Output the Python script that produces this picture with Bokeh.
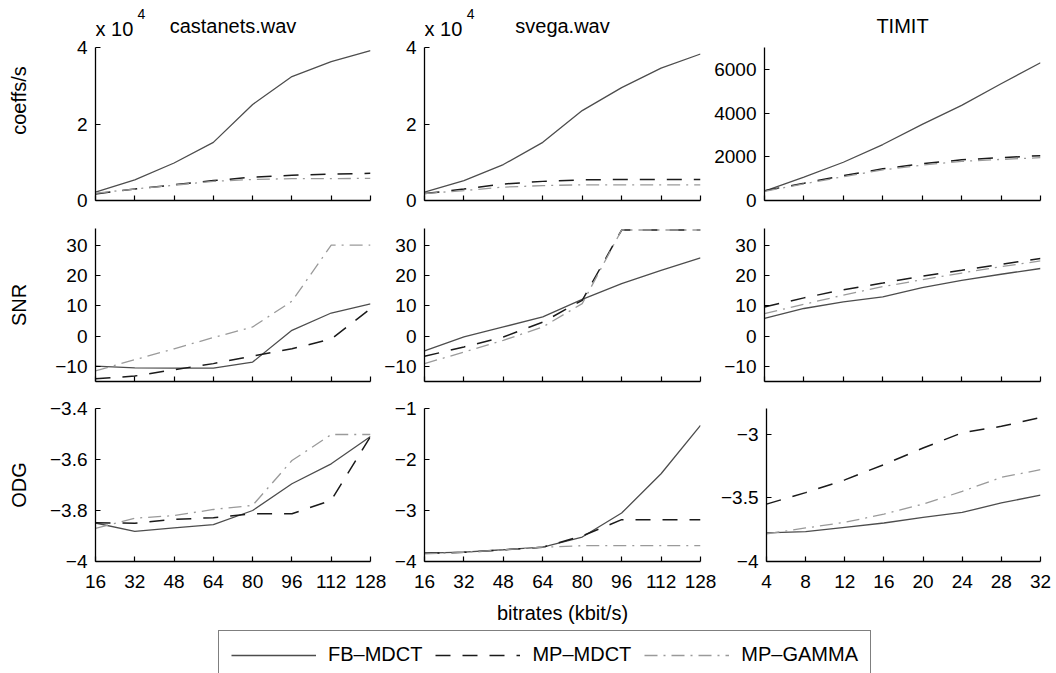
from bokeh.plotting import figure
from bokeh.layouts import column, row
from bokeh.models import Range1d, FixedTicker, Legend, LegendItem
from bokeh.core.properties import value
from bokeh.embed import file_html
from bokeh.resources import INLINE

# ---------------- data ----------------
x_kbps = [16, 32, 48, 64, 80, 96, 112, 128]
x_timit = [4, 8, 12, 16, 20, 24, 28, 32]

series_names = ["FB–MDCT", "MP–MDCT", "MP–GAMMA"]
panel_titles = ["castanets.wav", "svega.wav", "TIMIT"]
row_labels = ["coeffs/s", "SNR", "ODG"]
x_axis_title = "bitrates (kbit/s)"

# coeffs/s
cast_coef_fb = [2200, 5400, 9800, 15200, 25100, 32400, 36300, 39200]
cast_coef_mpmdct = [1700, 3000, 4100, 5200, 6100, 6600, 6900, 7100]
cast_coef_gamma = [1900, 3000, 4000, 5000, 5500, 5700, 5700, 5800]

svega_coef_fb = [2200, 5200, 9400, 15200, 23500, 29500, 34600, 38300]
svega_coef_mpmdct = [1800, 3000, 4300, 5000, 5400, 5500, 5500, 5500]
svega_coef_gamma = [1800, 2600, 3500, 3900, 4100, 4100, 4100, 4100]

timit_coef_fb = [430, 1070, 1750, 2560, 3480, 4350, 5340, 6300]
timit_coef_mpmdct = [450, 790, 1140, 1450, 1680, 1860, 1960, 2050]
timit_coef_gamma = [420, 760, 1090, 1400, 1620, 1790, 1880, 1960]

# SNR
cast_snr_fb = [-9.9, -10.5, -10.6, -10.6, -8.6, 1.9, 7.6, 10.6]
cast_snr_mpmdct = [-14.1, -13.2, -11.1, -9.1, -6.6, -4.2, -1.0, 9.0]
cast_snr_gamma = [-11.5, -7.8, -4.2, -0.5, 3.0, 11.5, 30.0, 30.0]

svega_snr_fb = [-4.9, -0.3, 3.0, 6.3, 12.1, 17.3, 21.7, 25.8]
svega_snr_mpmdct = [-6.7, -3.6, -0.3, 4.6, 11.8, 35.0, 35.0, 35.0]
svega_snr_gamma = [-9.1, -5.3, -1.4, 3.0, 10.7, 35.0, 35.0, 35.0]

timit_snr_fb = [5.8, 9.1, 11.3, 12.9, 16.0, 18.4, 20.4, 22.3]
timit_snr_mpmdct = [9.6, 12.6, 15.3, 17.5, 19.8, 21.7, 23.7, 25.6]
timit_snr_gamma = [7.4, 10.5, 13.5, 16.3, 18.6, 20.8, 22.9, 24.8]

# ODG
cast_odg_fb = [-3.849, -3.882, -3.868, -3.855, -3.800, -3.695, -3.617, -3.510]
cast_odg_mpmdct = [-3.848, -3.850, -3.835, -3.828, -3.813, -3.813, -3.760, -3.510]
cast_odg_gamma = [-3.870, -3.830, -3.820, -3.796, -3.780, -3.604, -3.502, -3.502]

svega_odg_fb = [-3.837, -3.817, -3.770, -3.720, -3.520, -3.050, -2.280, -1.330]
svega_odg_mpmdct = [-3.840, -3.820, -3.770, -3.720, -3.500, -3.180, -3.180, -3.180]
svega_odg_gamma = [-3.850, -3.820, -3.770, -3.720, -3.690, -3.690, -3.690, -3.690]

timit_odg_fb = [-3.776, -3.766, -3.732, -3.698, -3.654, -3.615, -3.541, -3.479]
timit_odg_mpmdct = [-3.550, -3.460, -3.360, -3.240, -3.110, -2.990, -2.940, -2.870]
timit_odg_gamma = [-3.784, -3.737, -3.693, -3.628, -3.550, -3.450, -3.340, -3.280]

# ticks
kbps_ticks = [16, 32, 48, 64, 80, 96, 112, 128]
timit_ticks = [4, 8, 12, 16, 20, 24, 28, 32]
coef_ticks_wav = [0, 20000, 40000]
coef_labels_wav = ["0", "2", "4"]
coef_ticks_timit = [0, 2000, 4000, 6000]
snr_ticks = [-10, 0, 10, 20, 30]
odg_ticks_cast = [-4, -3.8, -3.6, -3.4]
odg_ticks_svega = [-4, -3, -2, -1]
odg_ticks_timit = [-4, -3.5, -3]

# ---------------- styling ----------------
FONT = "Liberation Sans"
STYLES = [
    dict(line_color="#4d4d4d", line_width=1.3, line_dash="solid"),
    dict(line_color="#1a1a1a", line_width=1.5, line_dash="15 12"),
    dict(line_color="#9a9a9a", line_width=1.3, line_dash="13 6 2 6"),
]


def fmt(v):
    return f"{v:g}".replace("-", "\u2212")


def make_fig(width, height, l, r, t, b, xr, yr, xticks, yticks, ylabels=None, show_xlabels=False,
             ybounds=None):
    p = figure(width=width, height=height, min_border_left=l, min_border_right=r,
               min_border_top=t, min_border_bottom=b,
               x_range=Range1d(*xr), y_range=Range1d(*yr),
               output_backend="svg", toolbar_location=None, tools="")
    p.outline_line_color = None
    p.grid.visible = False
    p.background_fill_color = "white"
    p.border_fill_color = "white"
    for ax in (p.xaxis[0], p.yaxis[0]):
        ax.axis_line_color = "black"
        ax.axis_line_width = 1.3
        ax.major_tick_in = 5
        ax.major_tick_out = 0
        ax.minor_tick_in = 0
        ax.minor_tick_out = 0
        ax.major_tick_line_color = "black"
        ax.major_tick_line_width = 1.2
        ax.major_label_text_font = FONT
        ax.major_label_text_font_size = "19px"
        ax.major_label_text_color = "black"
        ax.axis_label_text_font = FONT
        ax.axis_label_text_font_size = "20px"
        ax.axis_label_text_font_style = "normal"
        ax.axis_label_text_color = "black"
    xa = p.xaxis[0]
    xa.ticker = FixedTicker(ticks=xticks)
    if show_xlabels:
        xa.major_label_overrides = {v: fmt(v) for v in xticks}
        xa.major_label_standoff = 13
    else:
        # the reference shows tick marks only on the upper rows
        xa.major_label_overrides = {v: "" for v in xticks}
        xa.major_label_text_font_size = "1px"
        xa.major_label_standoff = 0
    ya = p.yaxis[0]
    ya.ticker = FixedTicker(ticks=yticks)
    labels = ylabels if ylabels is not None else [fmt(v) for v in yticks]
    ya.major_label_overrides = {v: s for v, s in zip(yticks, labels)}
    ya.major_label_standoff = 8
    if ybounds is not None:
        ya.bounds = ybounds
    return p


def add_lines(p, xs, ys_list):
    return [p.line(x=xs, y=ys, **st) for ys, st in zip(ys_list, STYLES)]


# ---------------- row 1: coeffs/s ----------------
# The frame of the top row reaches up to the page top; the y axis itself stops at
# the data limit (bounds), leaving room above it for the panel titles.
TOP_PX = 200.0      # frame height of the top row in pixels
AXIS_PX = 153.0     # height of the axis part


def top_range(ymax):
    return (0, ymax * TOP_PX / AXIS_PX)


def px_to_data(ymax, px_from_top):
    return ymax * (TOP_PX - px_from_top) / AXIS_PX


p11 = make_fig(375, 214, 95, 5, 0, 14, (16, 128), top_range(40000), kbps_ticks, coef_ticks_wav,
               coef_labels_wav, ybounds=(0, 40000))
p12 = make_fig(331, 214, 49, 6, 0, 14, (16, 128), top_range(40000), kbps_ticks, coef_ticks_wav,
               coef_labels_wav, ybounds=(0, 40000))
p13 = make_fig(350, 214, 58, 16, 0, 14, (4, 32), top_range(7000), timit_ticks, coef_ticks_timit,
               ybounds=(0, 7000))
add_lines(p11, x_kbps, [cast_coef_fb, cast_coef_mpmdct, cast_coef_gamma])
add_lines(p12, x_kbps, [svega_coef_fb, svega_coef_mpmdct, svega_coef_gamma])
add_lines(p13, x_timit, [timit_coef_fb, timit_coef_mpmdct, timit_coef_gamma])
p11.yaxis[0].axis_label = row_labels[0]
p11.yaxis[0].axis_label_standoff = 44

txt = dict(text_font=value(FONT), text_color="black", text_baseline=value("middle"))
for p, title, xmid, ymax in ((p11, panel_titles[0], 72, 40000), (p12, panel_titles[1], 72, 40000),
                             (p13, panel_titles[2], 18, 7000)):
    p.text(x=[xmid], y=[px_to_data(ymax, 25)], text=[title], text_font_size=value("20px"),
           text_align=value("center"), **txt)
for p in (p11, p12):
    p.text(x=[16], y=[px_to_data(40000, 28)], text=["x 10"], text_font_size=value("20px"),
           text_align=value("left"), **txt)
    p.text(x=[16 + 42 * 112 / 275], y=[px_to_data(40000, 13)], text=["4"], text_font_size=value("14px"),
           text_align=value("left"), **txt)

# ---------------- row 2: SNR ----------------
snr_range = (-15, 35.5)
p21 = make_fig(375, 180, 95, 5, 14, 13, (16, 128), snr_range, kbps_ticks, snr_ticks)
p22 = make_fig(331, 180, 49, 6, 14, 13, (16, 128), snr_range, kbps_ticks, snr_ticks)
p23 = make_fig(350, 180, 58, 16, 14, 13, (4, 32), snr_range, timit_ticks, snr_ticks)
add_lines(p21, x_kbps, [cast_snr_fb, cast_snr_mpmdct, cast_snr_gamma])
add_lines(p22, x_kbps, [svega_snr_fb, svega_snr_mpmdct, svega_snr_gamma])
add_lines(p23, x_timit, [timit_snr_fb, timit_snr_mpmdct, timit_snr_gamma])
p21.yaxis[0].axis_label = row_labels[1]
p21.yaxis[0].axis_label_standoff = 22

# ---------------- row 3: ODG ----------------
p31 = make_fig(389, 233, 95, 19, 14, 66, (16, 128), (-4, -3.4), kbps_ticks, odg_ticks_cast, show_xlabels=True)
p32 = make_fig(328, 233, 35, 17, 14, 66, (16, 128), (-4, -1), kbps_ticks, odg_ticks_svega, show_xlabels=True)
p33 = make_fig(339, 233, 47, 16, 14, 66, (4, 32), (-4, -2.8), timit_ticks, odg_ticks_timit, show_xlabels=True)
add_lines(p31, x_kbps, [cast_odg_fb, cast_odg_mpmdct, cast_odg_gamma])
add_lines(p32, x_kbps, [svega_odg_fb, svega_odg_mpmdct, svega_odg_gamma])
add_lines(p33, x_timit, [timit_odg_fb, timit_odg_mpmdct, timit_odg_gamma])
p31.yaxis[0].axis_label = row_labels[2]
p31.yaxis[0].axis_label_standoff = 17
p32.xaxis[0].axis_label = x_axis_title
p32.xaxis[0].axis_label_standoff = 11

# ---------------- legend strip ----------------
pl = figure(width=1056, height=46, min_border=0, x_range=Range1d(0, 1), y_range=Range1d(0, 1),
            x_axis_type=None, y_axis_type=None,
            output_backend="svg", toolbar_location=None, tools="")
pl.outline_line_color = None
pl.grid.visible = False
# legend sample renderers carry the real series but lie outside this strip's ranges
leg_renderers = [pl.line(x=x_kbps, y=ys, **st)
                 for ys, st in zip([cast_coef_fb, cast_coef_mpmdct, cast_coef_gamma], STYLES)]
legend = Legend(items=[LegendItem(label=n, renderers=[r]) for n, r in zip(series_names, leg_renderers)],
                orientation="horizontal", location=(218, -6),
                glyph_width=85, glyph_height=20, label_standoff=12, spacing=13, padding=12, margin=0,
                label_text_font=FONT, label_text_font_size="20px", label_text_color="black",
                border_line_color="black", border_line_width=1.2, background_fill_color="white",
                background_fill_alpha=1.0)
pl.add_layout(legend)

layout = column(row(p11, p12, p13), row(p21, p22, p23), row(p31, p32, p33), pl)

open("out.html", "w").write(file_html(layout, INLINE))
